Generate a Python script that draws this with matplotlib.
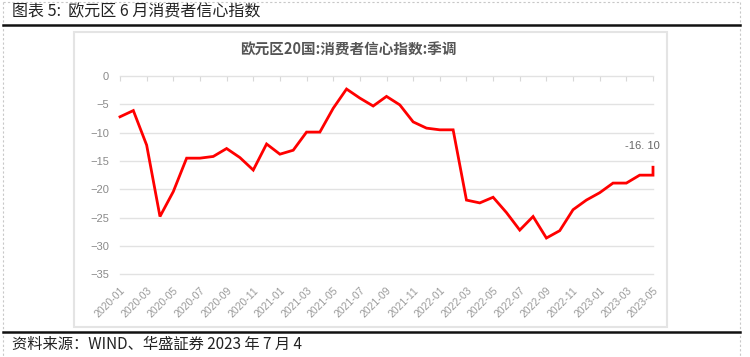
import matplotlib
matplotlib.use("Agg")
import matplotlib.pyplot as plt
from matplotlib.patches import Rectangle
from matplotlib.lines import Line2D
import numpy as np

plt.rcParams['font.family'] = ['Noto Sans CJK SC', 'DejaVu Sans']

# ---- data ----
months = [f"{y}-{m:02d}" for y in (2020, 2021, 2022, 2023) for m in range(1, 13)][:41]  # 2020-01 .. 2023-05
values = [-7.2, -6.1, -12.2, -24.8, -20.4, -14.5, -14.5, -14.2, -12.8, -14.4, -16.6, -12.0,
          -13.8, -13.1, -9.9, -9.9, -5.7, -2.3, -3.9, -5.3, -3.6, -5.1, -8.1, -9.2,
          -9.5, -9.5, -21.9, -22.4, -21.4, -24.1, -27.2, -24.8, -28.6, -27.3, -23.6, -21.9,
          -20.6, -18.9, -18.9, -17.5, -17.5]
latest_value = -16.1          # 2023-06 flash estimate, drawn at the last category
latest_label = "-16. 10"
tick_labels = months[::2]
y_ticks = [0, -5, -10, -15, -20, -25, -30, -35]

page_title = "图表 5:  欧元区 6 月消费者信心指数"
chart_title = "欧元区20国:消费者信心指数:季调"
source_text = "资料来源：WIND、华盛証券 2023 年 7 月 4"

W, H = 750, 357
fig = plt.figure(figsize=(W / 100, H / 100), dpi=100)

def fx(px):
    return px / W

def fy(py):
    return 1 - py / H

# page decorations
fig.add_artist(Line2D([fx(3), fx(3)], [fy(2), fy(357)], color="#c8c8c8", lw=0.8, ls=(0, (2, 2))))
fig.add_artist(Line2D([fx(740), fx(740)], [fy(2), fy(357)], color="#c8c8c8", lw=0.8, ls=(0, (2, 2))))
fig.add_artist(Line2D([fx(3), fx(740)], [fy(2), fy(2)], color="#c8c8c8", lw=0.8, ls=(0, (2, 2))))
fig.add_artist(Line2D([fx(3), fx(740)], [fy(24.5), fy(24.5)], color="#111111", lw=1.8))
fig.add_artist(Line2D([fx(3), fx(740)], [fy(331.5), fy(331.5)], color="#111111", lw=1.8))
fig.add_artist(Rectangle((fx(74), fy(327)), fx(667) - fx(74), fy(32) - fy(327),
                         transform=fig.transFigure, fill=False, edgecolor="#e4e4e4", lw=1.5))

fig.text(fx(12), fy(12), page_title, fontsize=11.5, color="#222222", va="center", ha="left")
fig.text(fx(12), fy(344), source_text, fontsize=11, color="#222222", va="center", ha="left")
fig.text(fx(348), fy(50), chart_title, fontsize=10.5, color="#555555", va="center", ha="center",
         fontweight="bold")

# axes
ax = fig.add_axes([fx(120), fy(274.3), fx(653) - fx(120), fy(76) - fy(274.3)])
x_pos = list(range(len(months))) + [len(months) - 1]
y_vals = values + [latest_value]
ax.plot(x_pos, y_vals, color="#ff0000", lw=2.0, solid_joinstyle="miter", clip_on=False, zorder=3)

ax.set_xlim(0, len(months) - 1)
ax.set_ylim(-35, 0)
ax.set_yticks(y_ticks)
ax.set_yticklabels([f"{t}" if t == 0 else f"\u2212{abs(t)}" for t in y_ticks],
                   fontsize=8, color="#8a8a8a", family=["Liberation Sans", "DejaVu Sans"])
ax.tick_params(axis="y", length=0, pad=8)

ax.set_xticks(range(0, len(months), 2))
ax.set_xticklabels(tick_labels, rotation=45, ha="right", rotation_mode="anchor",
                   fontsize=7.5, color="#999999", family=["Liberation Sans", "DejaVu Sans"])
ax.tick_params(axis="x", bottom=False, top=True, direction="in", length=3.5, width=0.8,
               color="#d8d8d8", labelbottom=True, pad=8)

for s in ax.spines.values():
    s.set_visible(False)
ax.yaxis.grid(True, color="#e2e2e2", lw=1.0)
ax.xaxis.grid(False)
ax.set_axisbelow(True)
for gl in ax.get_ygridlines():
    gl.set_clip_on(False)

ax.annotate(latest_label, xy=(x_pos[-1], latest_value), xytext=(-8, 12), textcoords="offset points",
            ha="center", va="bottom", fontsize=8, color="#666666",
            family=["Liberation Sans", "DejaVu Sans"])

fig.savefig("out.png", dpi=100)
